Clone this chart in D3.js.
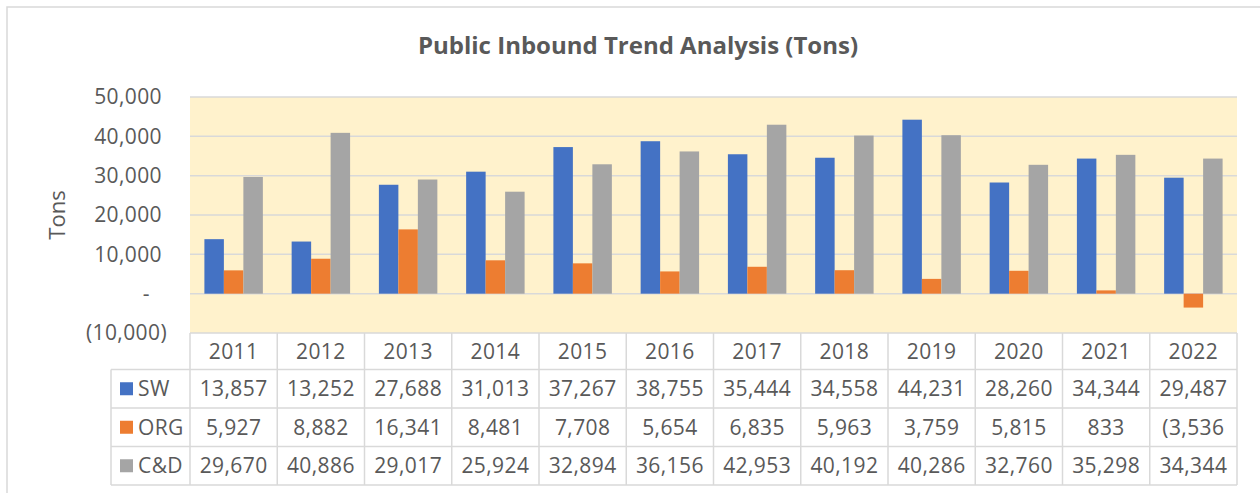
<!DOCTYPE html>
<html>
<head>
<meta charset="utf-8">
<script src="https://cdn.jsdelivr.net/npm/d3@7"></script>
<style>
  html, body { margin: 0; padding: 0; background: #ffffff; }
  svg { display: block; }
  text { font-family: "Open Sans", "Noto Sans", sans-serif; fill: #595959; }
</style>
</head>
<body>
<svg id="chart" width="1260" height="493"></svg>
<script>
// ---- data ----
const years = ["2011","2012","2013","2014","2015","2016","2017","2018","2019","2020","2021","2022"];
const seriesNames = ["SW", "ORG", "C&D"];
const seriesColors = ["#4472c4", "#ed7d31", "#a5a5a5"];
const swValues  = [13857, 13252, 27688, 31013, 37267, 38755, 35444, 34558, 44231, 28260, 34344, 29487];
const orgValues = [5927, 8882, 16341, 8481, 7708, 5654, 6835, 5963, 3759, 5815, 833, -3536];
const cdValues  = [29670, 40886, 29017, 25924, 32894, 36156, 42953, 40192, 40286, 32760, 35298, 34344];
const yTicks = [-10000, 0, 10000, 20000, 30000, 40000, 50000];
const title = "Public Inbound Trend Analysis (Tons)";
const yAxisTitle = "Tons";

const seriesValues = [swValues, orgValues, cdValues];

// ---- layout ----
const svg = d3.select("#chart");
const plotLeft = 190, plotRight = 1237, plotTop = 97, plotBottom = 333;
const headerH = 36.5, rowH = 38.5;
const legendLeft = 111;
const gridColor = "#d9d9d9";
const fs = "21px", ls = "0.4px";

// outer chart border
svg.append("path")
  .attr("d", "M7,493 L7,7 L1262,7")
  .attr("fill", "none").attr("stroke", gridColor).attr("stroke-width", 1.5);

// title
svg.append("text")
  .attr("x", 638).attr("y", 54)
  .attr("text-anchor", "middle")
  .style("font-size", "24px").style("font-weight", "bold")
  .text(title);

const x0 = d3.scaleBand().domain(years).range([plotLeft, plotRight]).paddingInner(0.33).paddingOuter(0.165);
const xCat = d3.scaleBand().domain(years).range([plotLeft, plotRight]).padding(0);
const x1 = d3.scaleBand().domain(seriesNames).range([0, x0.bandwidth()]).padding(0);
const y = d3.scaleLinear().domain([-10000, 50000]).range([plotBottom, plotTop]);

// plot background
svg.append("rect")
  .attr("x", plotLeft).attr("y", plotTop)
  .attr("width", plotRight - plotLeft).attr("height", plotBottom - plotTop)
  .attr("fill", "#fff2cc");

// gridlines
svg.append("g").selectAll("line")
  .data(yTicks.filter(t => t > -10000))
  .join("line")
  .attr("x1", plotLeft).attr("x2", plotRight)
  .attr("y1", d => y(d)).attr("y2", d => y(d))
  .attr("stroke", gridColor).attr("stroke-width", 1.5);

// y axis labels
const fmt = d3.format(",");
const yAxis = d3.axisLeft(y).tickValues(yTicks).tickSize(0).tickPadding(0)
  .tickFormat(d => d === 0 ? "-" : d < 0 ? "(" + fmt(-d) + ")" : fmt(d));
const yg = svg.append("g").attr("transform", "translate(162,0)").call(yAxis);
yg.select(".domain").remove();
yg.selectAll("text")
  .style("font-size", fs).style("letter-spacing", ls)
  .style("font-family", "\"Open Sans\", sans-serif").attr("fill", "#595959")
  .attr("dx", d => d === 0 ? -12 : d < 0 ? 5 : 0);

// y axis title
svg.append("text")
  .attr("transform", "translate(65,215) rotate(-90)")
  .attr("text-anchor", "middle")
  .style("font-size", "22px")
  .text(yAxisTitle);

// bars
const barData = [];
years.forEach((yr, i) => {
  seriesNames.forEach((s, j) => {
    barData.push({ year: yr, series: s, value: seriesValues[j][i], color: seriesColors[j] });
  });
});
svg.append("g").selectAll("rect")
  .data(barData)
  .join("rect")
  .attr("x", d => x0(d.year) + x1(d.series))
  .attr("width", x1.bandwidth())
  .attr("y", d => Math.min(y(d.value), y(0)))
  .attr("height", d => Math.abs(y(d.value) - y(0)))
  .attr("fill", d => d.color);

// data table
const tbl = svg.append("g");
const rowsTop = plotBottom + headerH;
const tableBottom = rowsTop + rowH * 3;
tbl.append("line").attr("x1", plotLeft).attr("x2", plotRight).attr("y1", plotBottom).attr("y2", plotBottom)
  .attr("stroke", gridColor).attr("stroke-width", 1.5);
[0, 1, 2, 3].forEach(k => {
  tbl.append("line").attr("x1", legendLeft).attr("x2", plotRight)
    .attr("y1", rowsTop + k * rowH).attr("y2", rowsTop + k * rowH)
    .attr("stroke", gridColor).attr("stroke-width", 1.5);
});
tbl.append("line").attr("x1", legendLeft).attr("x2", legendLeft).attr("y1", rowsTop).attr("y2", tableBottom)
  .attr("stroke", gridColor).attr("stroke-width", 1.5);
tbl.selectAll("line.v").data(years.concat(["end"])).join("line")
  .attr("class", "v")
  .attr("x1", d => d === "end" ? plotRight : xCat(d))
  .attr("x2", d => d === "end" ? plotRight : xCat(d))
  .attr("y1", plotBottom).attr("y2", tableBottom)
  .attr("stroke", gridColor).attr("stroke-width", 1.5);

// header labels
tbl.selectAll("text.yr").data(years).join("text")
  .attr("class", "yr")
  .attr("x", d => xCat(d) + xCat.bandwidth() / 2)
  .attr("y", plotBottom + headerH / 2)
  .attr("dy", "0.35em")
  .attr("text-anchor", "middle")
  .style("font-size", fs).style("letter-spacing", ls)
  .text(d => d);

// rows
seriesNames.forEach((s, j) => {
  const cy = rowsTop + rowH * j + rowH / 2;
  tbl.append("rect").attr("x", 120).attr("y", cy - 6.5).attr("width", 13).attr("height", 13)
    .attr("fill", seriesColors[j]);
  tbl.append("text").attr("x", 138).attr("y", cy).attr("dy", "0.35em")
    .style("font-size", fs).style("letter-spacing", ls).text(s);
  tbl.selectAll("text.c" + j).data(years).join("text")
    .attr("class", "c" + j)
    .attr("x", (d) => xCat(d) + xCat.bandwidth() / 2)
    .attr("y", cy).attr("dy", "0.35em")
    .attr("text-anchor", "middle")
    .style("font-size", fs).style("letter-spacing", ls)
    .text((d, i) => {
      const v = seriesValues[j][i];
      return v < 0 ? "(" + fmt(-v) : fmt(v);
    });
});
</script>
</body>
</html>
